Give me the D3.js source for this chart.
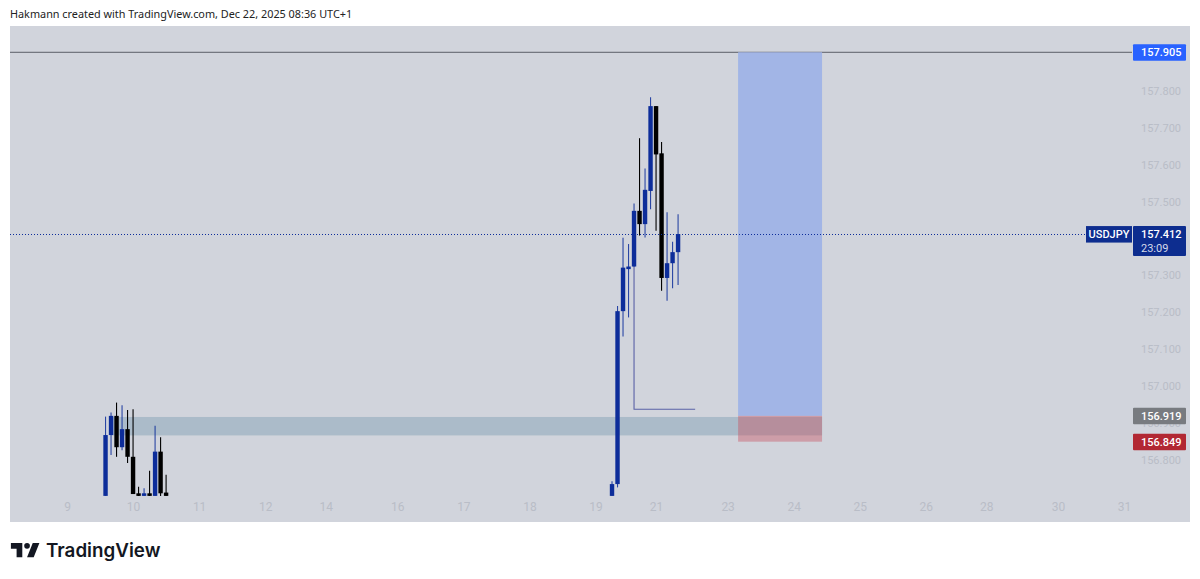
<html>
<head>
<meta charset="utf-8">
<script src="https://d3js.org/d3.v7.min.js"></script>
<style>
    body { margin: 0; background: #fff; }
    text { font-family: Roboto, "Noto Sans", sans-serif; }
</style>
</head>
<body>
<div id="chart"></div>
<script>
// candles (2h bars, index 0 = the "9" tick)
const barIndex = [7, 8, 9, 10, 11, 12, 13, 14, 15, 16, 17, 18,
    99, 100, 101, 102, 103, 104, 105, 106, 107, 108, 109, 110, 111];
const open = [156.702, 156.867, 156.919, 156.834, 156.883, 156.808, 156.709, 156.702, 156.709, 156.702, 156.822, 156.711,
    156.702, 156.734, 157.203, 157.317, 157.324, 157.475, 157.439, 157.529, 157.759, 157.631, 157.293, 157.333, 157.363];
const high = [156.917, 156.928, 156.955, 156.948, 156.935, 156.937, 156.727, 156.723, 156.770, 156.892, 156.861, 156.759,
    156.742, 157.217, 157.402, 157.385, 157.495, 157.672, 157.590, 157.783, 157.759, 157.662, 157.471, 157.391, 157.466];
const low = [156.702, 156.813, 156.808, 156.826, 156.791, 156.707, 156.702, 156.702, 156.702, 156.702, 156.702, 156.702,
    156.702, 156.725, 157.134, 157.186, 157.324, 157.408, 157.403, 157.479, 157.421, 157.258, 157.231, 157.265, 157.274];
const close = [156.867, 156.919, 156.834, 156.883, 156.808, 156.707, 156.702, 156.709, 156.702, 156.822, 156.709, 156.702,
    156.734, 157.203, 157.321, 157.324, 157.475, 157.439, 157.532, 157.759, 157.628, 157.293, 157.333, 157.363, 157.412];

// 157.400 sits fully behind the last price label in the reference, so it is left out
const priceTicks = [157.8, 157.7, 157.6, 157.5, 157.3, 157.2, 157.1, 157.0, 156.9, 156.8];
const dayLabels = ["9", "10", "11", "12", "14", "16", "17", "18", "19", "21", "23", "24", "25", "26", "28", "30", "31"];
const dayBars = [0, 12, 24, 36, 47, 60, 72, 84, 96, 107, 120, 132, 144, 156, 167, 180, 192];

// drawings
const targetPrice = 157.905, entryPrice = 156.919, stopPrice = 156.849, lastPrice = 157.412;
const zoneBars = [121.9, 137.15];
const bandBars = [8, 137.15];
const bandPrices = [156.916, 156.866];
const elbowBars = [103, 103, 114.1];
const elbowPrices = [157.33, 156.937, 156.937];

const width = 1200, height = 579;
const paneLeft = 10, paneRight = 1190, paneTop = 26, paneBottom = 522, axisLeft = 1132;
const upColor = "#0d2d9a", downColor = "#000000";
const labelFont = "11px";

const x = d3.scaleLinear().domain([0, 192]).range([67, 1124]);
const y = d3.scaleLinear().domain([157.8, 156.8]).range([91, 459.75]);

const svg = d3.select("#chart").append("svg")
    .attr("width", width)
    .attr("height", height)
    .style("display", "block");

svg.append("rect").attr("width", width).attr("height", height).attr("fill", "#fff");
svg.append("rect")
    .attr("x", paneLeft).attr("y", paneTop)
    .attr("width", paneRight - paneLeft).attr("height", paneBottom - paneTop)
    .attr("fill", "#d1d4dc");

svg.append("text")
    .attr("x", 10).attr("y", 18)
    .style("font-family", "'Noto Sans'")
    .style("font-size", "10.85px")
    .attr("fill", "#222")
    .text("Hakmann created with TradingView.com, Dec 22, 2025 08:36 UTC+1");

// axes
const yAxis = svg.append("g")
    .attr("transform", `translate(${axisLeft + 9},0)`)
    .call(d3.axisRight(y).tickValues(priceTicks).tickSize(0).tickFormat(d3.format(".3f")));
yAxis.select(".domain").remove();
yAxis.selectAll("text").attr("x", 0).attr("fill", "#b9bdc7").style("font-size", labelFont);

const xAxis = svg.append("g")
    .attr("transform", "translate(0,502)")
    .call(d3.axisBottom(x).tickValues(dayBars).tickSize(0).tickFormat((d, i) => dayLabels[i]));
xAxis.select(".domain").remove();
xAxis.selectAll("text").attr("y", 0).attr("dy", "0.71em").attr("fill", "#b9bdc7").style("font-size", "12px");

// target line
svg.append("line")
    .attr("x1", paneLeft).attr("x2", axisLeft)
    .attr("y1", y(targetPrice)).attr("y2", y(targetPrice))
    .attr("stroke", "#5b5e66").attr("stroke-width", 1);

// long position tool and the zone under it
svg.append("rect")
    .attr("x", x(bandBars[0])).attr("width", x(bandBars[1]) - x(bandBars[0]))
    .attr("y", y(bandPrices[0])).attr("height", y(bandPrices[1]) - y(bandPrices[0]))
    .attr("fill", "rgba(114,150,172,0.4)");
svg.append("rect")
    .attr("x", x(zoneBars[0])).attr("width", x(zoneBars[1]) - x(zoneBars[0]))
    .attr("y", y(targetPrice)).attr("height", y(entryPrice) - y(targetPrice))
    .attr("fill", "#a2b5e6");
svg.append("rect")
    .attr("x", x(zoneBars[0])).attr("width", x(zoneBars[1]) - x(zoneBars[0]))
    .attr("y", y(entryPrice)).attr("height", y(stopPrice) - y(entryPrice))
    .attr("fill", "rgba(199,74,90,0.4)");

// elbow drawing
svg.append("path")
    .datum(elbowBars.map((b, i) => [b, elbowPrices[i]]))
    .attr("fill", "none")
    .attr("stroke", "#5a62a6")
    .attr("stroke-width", 1.1)
    .attr("d", d3.line().x(d => x(d[0])).y(d => y(d[1])));

// candles
const candles = barIndex.map((b, i) => ({ b, o: open[i], h: high[i], l: low[i], c: close[i] }));
const candleG = svg.append("g").selectAll("g").data(candles).enter().append("g");
candleG.append("line")
    .attr("x1", d => x(d.b)).attr("x2", d => x(d.b))
    .attr("y1", d => y(d.h)).attr("y2", d => y(d.l))
    .attr("stroke", d => d.c >= d.o ? upColor : downColor)
    .attr("stroke-opacity", d => d.c >= d.o ? 0.85 : 1)
    .attr("stroke-width", 1.1);
candleG.append("rect")
    .attr("x", d => x(d.b) - 2.2)
    .attr("width", 4.4)
    .attr("y", d => y(Math.max(d.o, d.c)))
    .attr("height", d => Math.max(1, Math.abs(y(d.o) - y(d.c))))
    .attr("fill", d => d.c >= d.o ? upColor : downColor);

// last price line
svg.append("line")
    .attr("x1", paneLeft).attr("x2", 1086)
    .attr("y1", y(lastPrice)).attr("y2", y(lastPrice))
    .attr("stroke", upColor).attr("stroke-width", 1)
    .attr("stroke-dasharray", "1 2")
    .attr("shape-rendering", "crispEdges");

// price labels
function priceLabel(price, fill) {
    svg.append("rect")
        .attr("x", 1133).attr("width", 53)
        .attr("y", y(price) - 8).attr("height", 16.5)
        .attr("rx", 1).attr("fill", fill);
    svg.append("text")
        .attr("x", 1141).attr("y", y(price) + 4)
        .attr("fill", "#fff")
        .style("font-size", labelFont).style("font-weight", 500)
        .text(d3.format(".3f")(price));
}
priceLabel(targetPrice, "#2962ff");
priceLabel(entryPrice, "#787b80");
priceLabel(stopPrice, "#b22833");

svg.append("rect")
    .attr("x", 1086).attr("width", 46)
    .attr("y", y(lastPrice) - 8).attr("height", 16.5)
    .attr("fill", "#0d2d8f");
svg.append("text")
    .attr("x", 1109).attr("y", y(lastPrice) + 4)
    .attr("text-anchor", "middle").attr("fill", "#fff")
    .style("font-size", labelFont).style("font-weight", 500)
    .text("USDJPY");
svg.append("rect")
    .attr("x", 1133).attr("width", 53)
    .attr("y", y(lastPrice) - 8).attr("height", 30)
    .attr("rx", 1).attr("fill", "#0d2d8f");
svg.append("text")
    .attr("x", 1141).attr("y", y(lastPrice) + 4)
    .attr("fill", "#fff")
    .style("font-size", labelFont).style("font-weight", 500)
    .text(d3.format(".3f")(lastPrice));
svg.append("text")
    .attr("x", 1141).attr("y", y(lastPrice) + 18)
    .attr("fill", "#d5daea")
    .style("font-size", labelFont)
    .text("23:09");

// logo
svg.append("path")
    .attr("transform", "translate(9,537.3) scale(0.95)")
    .attr("fill", "#131722")
    .attr("d", "M14 6H2v6h6v9h6V6Zm12 15h-7l6-15h7l-6 15Zm-7-9a3 3 0 1 0 0-6 3 3 0 0 0 0 6Z");
svg.append("text")
    .attr("x", 46).attr("y", 557)
    .attr("fill", "#131722")
    .style("font-family", "Inter")
    .style("font-size", "18.8px")
    .style("font-weight", 600)
    .text("TradingView");
</script>
</body>
</html>
